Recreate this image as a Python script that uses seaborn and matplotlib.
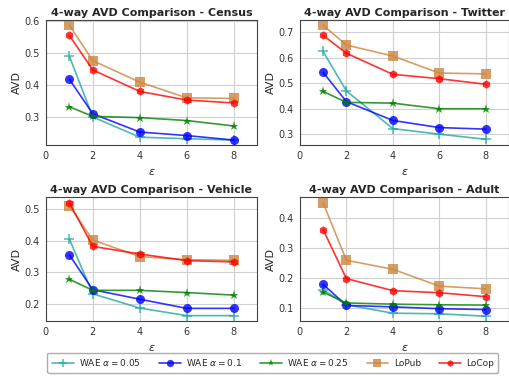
import numpy as np
import pandas as pd
import seaborn as sns
import matplotlib.pyplot as plt

sns.set_style("whitegrid", {"axes.edgecolor": "#444444", "grid.color": "#d0d0d0"})
plt.rcParams["font.family"] = ["DejaVu Sans"]

eps = [1, 2, 4, 6, 8]

datasets = ["Census", "Twitter", "Vehicle", "Adult"]
series = ["WAE $\\alpha=0.05$", "WAE $\\alpha=0.1$", "WAE $\\alpha=0.25$", "LoPub", "LoCop"]

census_wae005 = [0.490, 0.300, 0.237, 0.232, 0.228]
census_wae01 = [0.418, 0.310, 0.253, 0.242, 0.228]
census_wae025 = [0.332, 0.302, 0.298, 0.289, 0.272]
census_lopub = [0.587, 0.476, 0.409, 0.360, 0.358]
census_locop = [0.555, 0.447, 0.380, 0.353, 0.344]

twitter_wae005 = [0.625, 0.470, 0.322, 0.300, 0.280]
twitter_wae01 = [0.543, 0.428, 0.354, 0.326, 0.320]
twitter_wae025 = [0.468, 0.425, 0.422, 0.400, 0.400]
twitter_lopub = [0.728, 0.650, 0.607, 0.540, 0.537]
twitter_locop = [0.688, 0.618, 0.535, 0.518, 0.496]

vehicle_wae005 = [0.405, 0.232, 0.187, 0.163, 0.163]
vehicle_wae01 = [0.355, 0.245, 0.215, 0.186, 0.186]
vehicle_wae025 = [0.278, 0.243, 0.243, 0.236, 0.228]
vehicle_lopub = [0.510, 0.402, 0.350, 0.340, 0.338]
vehicle_locop = [0.520, 0.382, 0.358, 0.337, 0.333]

adult_wae005 = [0.160, 0.110, 0.082, 0.080, 0.072]
adult_wae01 = [0.178, 0.108, 0.103, 0.097, 0.094]
adult_wae025 = [0.152, 0.116, 0.112, 0.110, 0.109]
adult_lopub = [0.449, 0.258, 0.228, 0.172, 0.163]
adult_locop = [0.360, 0.197, 0.157, 0.150, 0.137]

values = {
    "Census": [census_wae005, census_wae01, census_wae025, census_lopub, census_locop],
    "Twitter": [twitter_wae005, twitter_wae01, twitter_wae025, twitter_lopub, twitter_locop],
    "Vehicle": [vehicle_wae005, vehicle_wae01, vehicle_wae025, vehicle_lopub, vehicle_locop],
    "Adult": [adult_wae005, adult_wae01, adult_wae025, adult_lopub, adult_locop],
}

ylims = {
    "Census": (0.212, 0.603),
    "Twitter": (0.257, 0.748),
    "Vehicle": (0.146, 0.538),
    "Adult": (0.056, 0.468),
}

colors = ["#20a8a0", "blue", "green", "peru", "red"]
markers = ["+", "o", "*", "s", "h"]
msizes = [7, 6.5, 6.5, 6.5, 6]

fig = plt.figure(figsize=(5.1, 3.79), dpi=100)
positions = [
    [0.090, 0.617, 0.414, 0.330],
    [0.588, 0.617, 0.410, 0.330],
    [0.090, 0.153, 0.414, 0.327],
    [0.588, 0.153, 0.410, 0.327],
]

handles = None
for name, pos in zip(datasets, positions):
    ax = fig.add_axes(pos)
    for i, lab in enumerate(series):
        sns.lineplot(x=eps, y=values[name][i], ax=ax, color=colors[i], marker=markers[i],
                     markersize=msizes[i], markeredgewidth=1.1 if markers[i] == "+" else 0,
                     markeredgecolor=colors[i], alpha=0.8, linewidth=1.2, label=lab)
    ax.set_xlim(0, 9)
    ax.set_ylim(*ylims[name])
    ax.set_xticks([0, 2, 4, 6, 8])
    ax.set_title("4-way AVD Comparison - " + name, fontsize=8, fontweight="bold", pad=3)
    ax.set_xlabel("$\\epsilon$", fontsize=8)
    ax.set_ylabel("AVD", fontsize=8, labelpad=2)
    ax.tick_params(labelsize=7, pad=1, colors="#333333")
    handles, labels = ax.get_legend_handles_labels()
    ax.get_legend().remove()

fig.legend(handles, labels, loc="lower center", bbox_to_anchor=(0.535, 0.005), ncol=5,
           fontsize=6.5, frameon=True, edgecolor="#999999", fancybox=True,
           columnspacing=2.0, handlelength=2.4, handletextpad=0.6,
           markerscale=0.8, borderpad=0.5)

plt.savefig("out.png", dpi=100)
